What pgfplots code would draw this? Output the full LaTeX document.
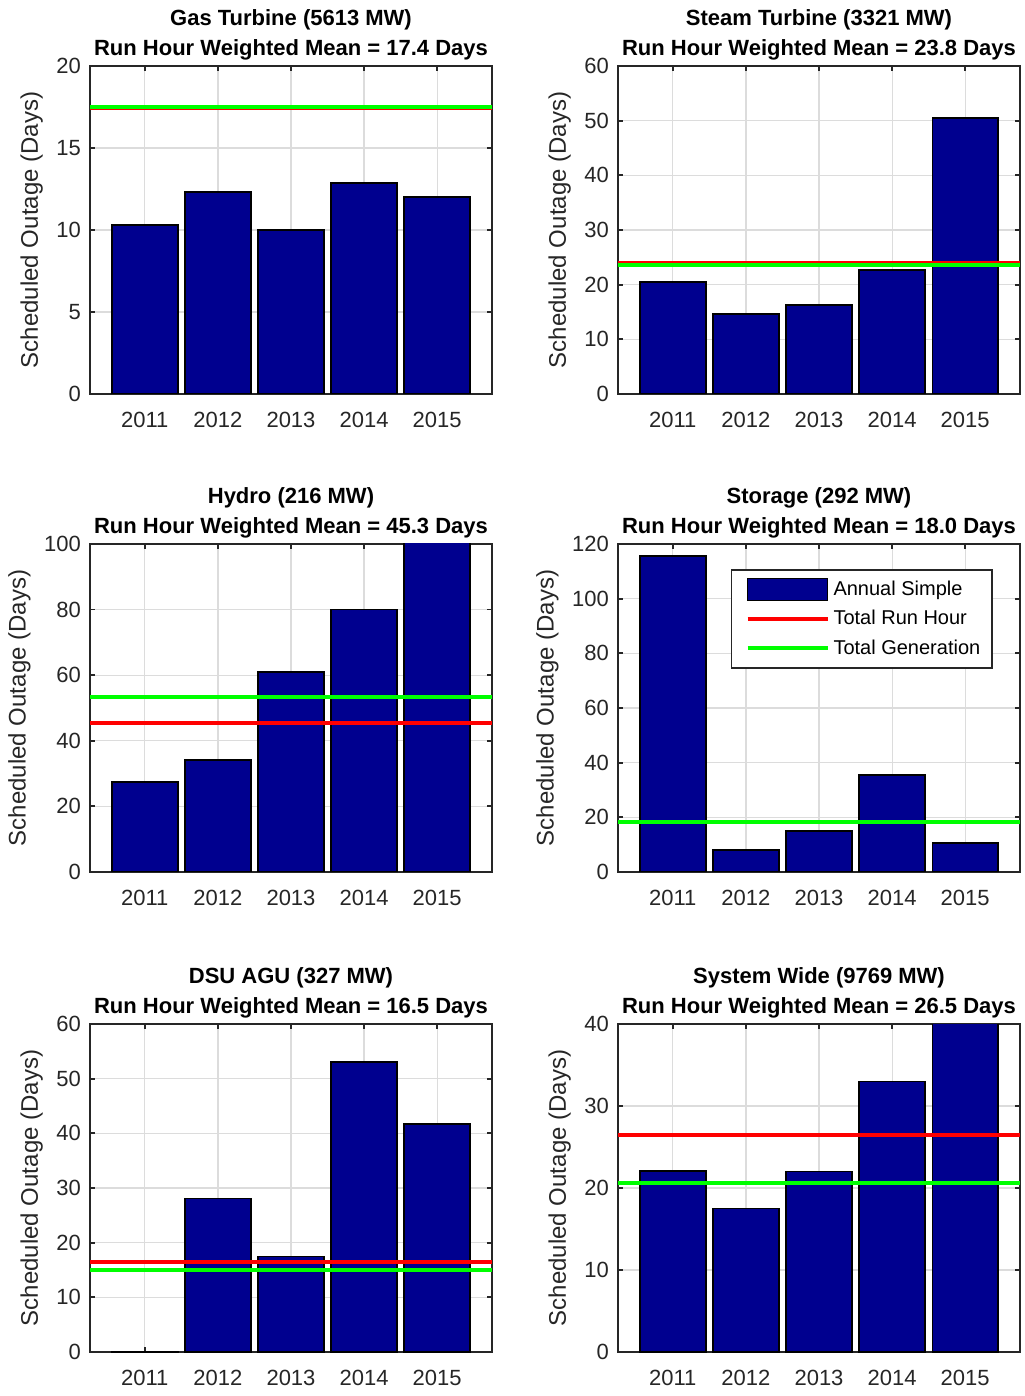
\documentclass[border=0pt]{standalone}
\usepackage{pgfplots}
\pgfplotsset{compat=1.18}
\usepackage{fontspec}
\setmainfont{Liberation Sans}
\definecolor{barblue}{rgb}{0,0,0.5625}
\definecolor{axisgray}{HTML}{262626}
\definecolor{gridgray}{HTML}{DCDCDC}
\pgfplotsset{
 mystyle/.style={
  scale only axis, width=201pt, height=164pt,
  anchor=south west,
  xmin=2010.25, xmax=2015.75,
  xtick={2011,2012,2013,2014,2015},
  xticklabels={2011,2012,2013,2014,2015},
  ymin=0,
  grid=major, grid style={color=gridgray, line width=0.6pt},
  axis line style={color=axisgray, line width=0.9pt},
  tick style={color=axisgray, line width=0.9pt},
  major tick length=2.5pt,
  tick align=inside,
  ticklabel style={font=\fontsize{11}{12}\selectfont, color=axisgray},
  xticklabel style={yshift=-5.5pt},
  yticklabel style={xshift=-1pt},
  /pgf/number format/assume math mode=true,
  ylabel={Scheduled Outage (Days)},
  ylabel style={font=\fontsize{12}{14}\selectfont, color=axisgray},
  title style={font=\bfseries\fontsize{11}{15}\selectfont, align=center, yshift=-6.5pt},
  clip=true,
 },
 bars/.style={ybar, bar width=0.9, fill=barblue, draw=black, line width=0.8pt,
   legend image code/.code={\path (0pt,0pt); \draw[fill=barblue, draw=black, line width=0.8pt] (3pt,-5.5pt) rectangle (43pt,5.5pt);}},
 redl/.style={red, line width=2pt, legend image code/.code={\path (0pt,0pt); \draw[red, line width=2pt] (3pt,0pt) -- (43pt,0pt);}},
 greenl/.style={green, line width=2pt, legend image code/.code={\path (0pt,0pt); \draw[green, line width=2pt] (3pt,0pt) -- (43pt,0pt);}},
}
\begin{document}
\begin{tikzpicture}
\useasboundingbox (0,0) rectangle (512pt,698pt);
% Gas Turbine
\begin{axis}[mystyle, at={(45pt,501pt)}, ymax=20, ytick={0,5,10,15,20},
  title={Gas Turbine (5613 MW)\\Run Hour Weighted Mean = 17.4 Days}]
\addplot[bars] coordinates {(2011,10.3) (2012,12.3) (2013,10.0) (2014,12.87) (2015,12.0)};
\addplot[redl] coordinates {(2010.25,17.46) (2015.75,17.46)};
\addplot[greenl] coordinates {(2010.25,17.52) (2015.75,17.52)};
\end{axis}
% Steam Turbine
\begin{axis}[mystyle, at={(309pt,501pt)}, ymax=60, ytick={0,10,...,60},
  title={Steam Turbine (3321 MW)\\Run Hour Weighted Mean = 23.8 Days}]
\addplot[bars] coordinates {(2011,20.5) (2012,14.6) (2013,16.3) (2014,22.7) (2015,50.5)};
\addplot[redl] coordinates {(2010.25,23.9) (2015.75,23.9)};
\addplot[greenl] coordinates {(2010.25,23.55) (2015.75,23.55)};
\end{axis}
% Hydro
\begin{axis}[mystyle, at={(45pt,262pt)}, ymax=100, ytick={0,20,...,100},
  title={Hydro (216 MW)\\Run Hour Weighted Mean = 45.3 Days}]
\addplot[bars] coordinates {(2011,27.4) (2012,34.1) (2013,61.0) (2014,80.0) (2015,103)};
\addplot[redl] coordinates {(2010.25,45.3) (2015.75,45.3)};
\addplot[greenl] coordinates {(2010.25,53.2) (2015.75,53.2)};
\end{axis}
% Storage
\begin{axis}[mystyle, at={(309pt,262pt)}, ymax=120, ytick={0,20,...,120},
  title={Storage (292 MW)\\Run Hour Weighted Mean = 18.0 Days},
  legend style={at={(0.933,0.924)}, anchor=north east, draw=axisgray, line width=0.8pt,
    font=\fontsize{10}{12}\selectfont, row sep=2pt, inner xsep=4pt, inner ysep=3.5pt},
  legend cell align=left]
\addplot[bars] coordinates {(2011,115.6) (2012,8.0) (2013,15.0) (2014,35.5) (2015,10.6)};
\addplot[redl] coordinates {(2010.25,18.2) (2015.75,18.2)};
\addplot[greenl] coordinates {(2010.25,18.2) (2015.75,18.2)};
\legend{Annual Simple, Total Run Hour, Total Generation}
\end{axis}
% DSU AGU
\begin{axis}[mystyle, at={(45pt,22pt)}, ymax=60, ytick={0,10,...,60},
  title={DSU AGU (327 MW)\\Run Hour Weighted Mean = 16.5 Days}]
\addplot[bars] coordinates {(2011,0.1) (2012,28.1) (2013,17.5) (2014,53.0) (2015,41.7)};
\addplot[redl] coordinates {(2010.25,16.5) (2015.75,16.5)};
\addplot[greenl] coordinates {(2010.25,15.0) (2015.75,15.0)};
\end{axis}
% System Wide
\begin{axis}[mystyle, at={(309pt,22pt)}, ymax=40, ytick={0,10,...,40},
  title={System Wide (9769 MW)\\Run Hour Weighted Mean = 26.5 Days}]
\addplot[bars] coordinates {(2011,22.1) (2012,17.5) (2013,22.0) (2014,33.0) (2015,41)};
\addplot[redl] coordinates {(2010.25,26.5) (2015.75,26.5)};
\addplot[greenl] coordinates {(2010.25,20.65) (2015.75,20.65)};
\end{axis}
\end{tikzpicture}
\end{document}
